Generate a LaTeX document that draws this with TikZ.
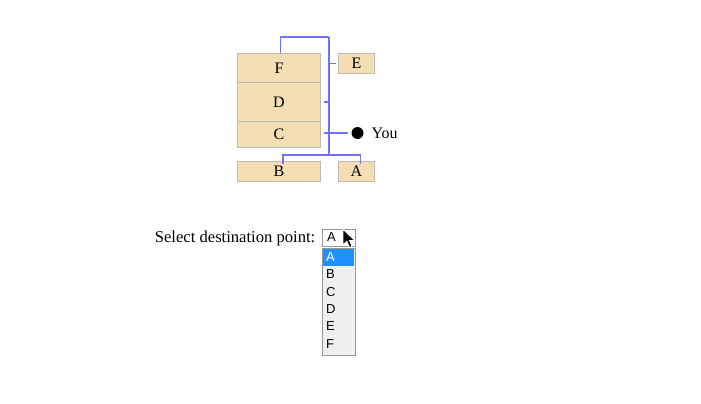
\documentclass[tikz,border=0pt]{standalone}
\usepackage{fontspec}
\setmainfont{Liberation Serif}
\newfontfamily\uisans{Liberation Sans}
\definecolor{boxfill}{RGB}{245,222,179}
\definecolor{boxline}{RGB}{192,186,174}
\definecolor{linkblue}{RGB}{112,112,255}
\definecolor{selblue}{RGB}{30,144,255}
\definecolor{listbg}{RGB}{240,240,240}
\definecolor{listline}{RGB}{150,150,150}
\tikzset{
  box/.style={draw=boxline, fill=boxfill, line width=1pt, inner sep=0pt, outer sep=0pt, anchor=north west,
    font=\fontsize{16}{19}\selectfont},
  link/.style={draw=linkblue, line width=1.3pt},
  item/.style={anchor=west, inner sep=0pt, font=\uisans\fontsize{13}{15}\selectfont},
}
\begin{document}
\begin{tikzpicture}[x=1pt,y=-1pt]
\useasboundingbox[fill=white] (0,0) rectangle (701,404);
% boxes
\node[box, minimum width=83pt, minimum height=29pt] (F) at (237.5,53.5) {F};
\node[box, minimum width=83pt, minimum height=39pt] (D) at (237.5,82.5) {D};
\node[box, minimum width=83pt, minimum height=26pt] (C) at (237.5,121.5) {C};
\node[box, minimum width=83pt, minimum height=20pt] (B) at (237.5,161.5) {B};
\node[box, minimum width=36pt, minimum height=20pt] (E) at (338.5,53.5) {E};
\node[box, minimum width=36pt, minimum height=20pt] (A) at (338.5,161.5) {A};
% you
\node[circle, fill=black, minimum size=12pt, inner sep=0pt] (dot) at (357.5,133) {};
\node[anchor=west, inner sep=0pt, font=\fontsize{16}{19}\selectfont] (you) at (371.5,133) {You};
% link lines
\coordinate (top) at (329,37);
\coordinate (bot) at (329,155);
\coordinate (cstart) at (C.east |- dot.west);
\path[link] (top) -- (bot);
\path[link] ([xshift=1.5pt]F.north) |- (top);
\path[link] ([xshift=-3pt]E.west) -- ([xshift=-0.5pt]E.west -| top);
\path[link] ([xshift=3pt]D.east) -- (D.east -| top);
\path[link] ([xshift=3pt]cstart) -- ([xshift=-3pt]dot.west);
\path[link] ([xshift=4pt,yshift=-2.5pt]B.north) |- (bot) -| ([xshift=4pt,yshift=-2.5pt]A.north);
% select
\node[anchor=east, inner sep=0pt, font=\fontsize{16.6}{19}\selectfont] (label) at (315.5,238.5) {Select destination point:};
\node[draw=listline, fill=white, line width=0.8pt, minimum width=33pt, minimum height=17pt, anchor=north west, inner sep=0pt] (sel) at (322,228.5) {};
\node[item] (selA) at (327,237.5) {A};
\fill[black!70] (346.5,235.5) -- (351.5,235.5) -- (349,238.5) -- cycle;
% list
\node[draw=listline, fill=listbg, line width=0.8pt, minimum width=33pt, minimum height=107pt, anchor=north west, inner sep=0pt] (list) at (322,248) {};
\fill[selblue] (322.8,248.8) rectangle (354.2,266);
\node[item, text=white] (iA) at (326,257.5) {A};
\node[item] (iB) at (326,274.5) {B};
\node[item] (iC) at (326,292) {C};
\node[item] (iD) at (326,309.5) {D};
\node[item] (iE) at (326,326.5) {E};
\node[item] (iF) at (326,344) {F};
% cursor
\begin{scope}[shift={(343,229)}]
\filldraw[fill=black, draw=white, line width=0.8pt, line join=miter]
  (0,0) -- (0,16) -- (3.8,12.3) -- (6.5,18.5) -- (9,17.4) -- (6.4,11.4) -- (11.5,11.4) -- cycle;
\end{scope}
\end{tikzpicture}
\end{document}
